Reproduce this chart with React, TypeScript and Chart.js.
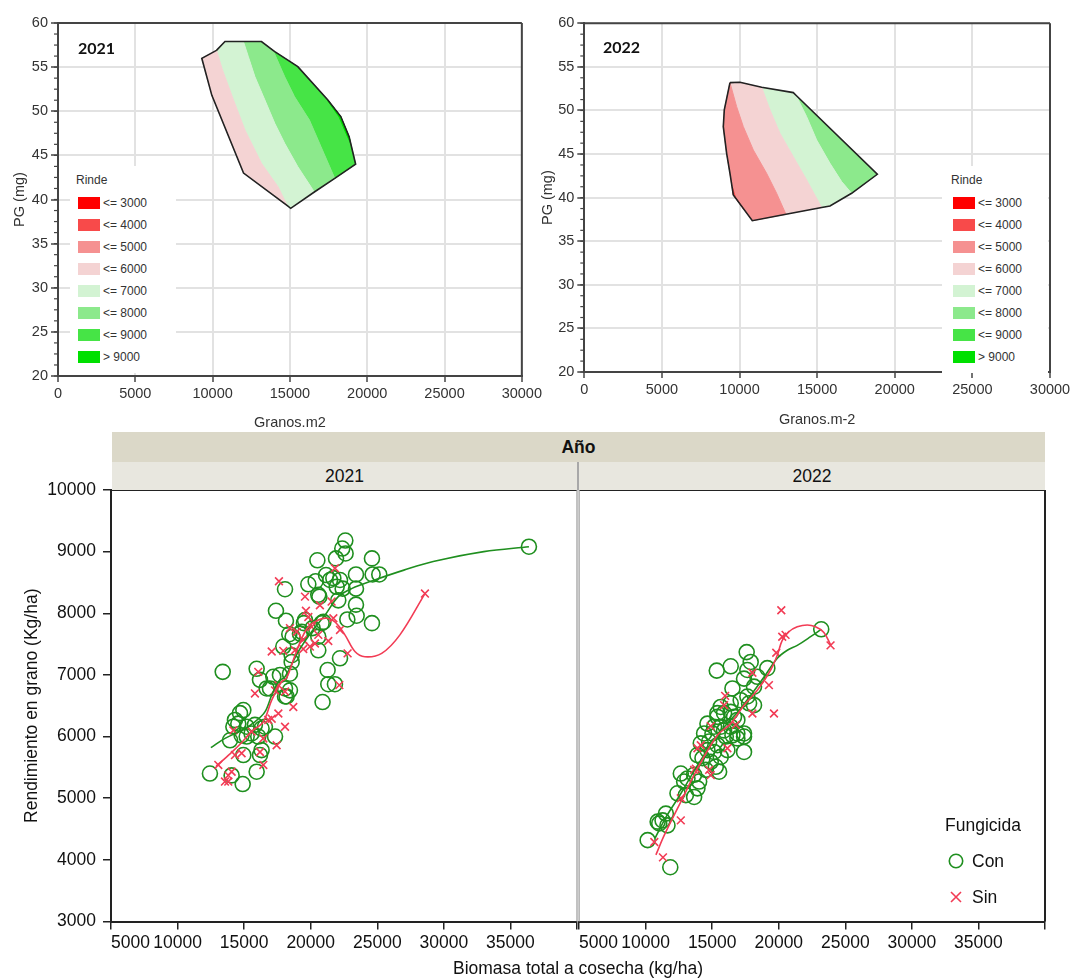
import React, { useEffect, useRef } from 'react';
import { Chart, registerables } from 'chart.js';

Chart.register(...registerables);

type Pt = [number, number];

const SANS = '"Liberation Sans", Arial, Helvetica, sans-serif';

// ---------- Rinde classes (kg/ha) used by both yield maps ----------
const rindeClases = ['<= 3000', '<= 4000', '<= 5000', '<= 6000', '<= 7000', '<= 8000', '<= 9000', '> 9000'];
const rindeColores = ['#ff0000', '#f84a4a', '#f59191', '#f4d3d3', '#d3f3d3', '#8ce98c', '#46e446', '#00e000'];

// ---------- 2021 map (Granos.m2 vs PG): outline pieces and class limits ----------
const contorno2021Izq: Pt[] = [[14830, 39.3], [12000, 43.0], [9950, 51.8], [9300, 56.0], [10250, 56.9]];
const contorno2021Sup: Pt[] = [[10250, 56.9], [10800, 57.9], [11990, 57.9]];
const contorno2021SupDer: Pt[] = [[11990, 57.9], [13160, 57.9], [13910, 56.9]];
const contorno2021Der: Pt[] = [[13910, 56.9], [14020, 56.75], [15510, 55.05], [17440, 51.3], [18290, 49.4], [18830, 47.1], [19250, 44.0], [17900, 42.4]];
const contorno2021Inf1: Pt[] = [[17900, 42.4], [16580, 40.85]];
const contorno2021Inf2: Pt[] = [[16580, 40.85], [15050, 39.0], [14830, 39.3]];
const limite2021_6000: Pt[] = [[10250, 56.9], [10640, 54.67], [11350, 51.28], [12090, 47.88], [13160, 44.1], [14230, 41.45], [14830, 39.3]];
const limite2021_7000: Pt[] = [[11990, 57.9], [12310, 56.19], [12735, 53.92], [13380, 51.28], [14020, 48.63], [14660, 46.37], [15510, 43.72], [16580, 40.85]];
const limite2021_8000: Pt[] = [[13910, 56.9], [14660, 53.92], [15300, 51.65], [16260, 49.01], [17010, 45.99], [17900, 42.4]];
const mancha2021_mas9000: Pt[] = [[17440, 51.3], [18290, 49.4], [18830, 47.1], [18920, 46.4], [18700, 47.2], [18180, 49.35], [17480, 51.1], [17440, 51.3]];

// ---------- 2022 map (Granos.m-2 vs PG) ----------
const contorno2022Izq: Pt[] = [[12991, 38.09], [10823, 37.36], [9599, 40.31], [9384, 42.79], [9169, 45.09], [8954, 48.15], [9019, 50.06], [9384, 53.19]];
const contorno2022Sup: Pt[] = [[9384, 53.19], [10028, 53.23], [11424, 52.66]];
const contorno2022Sup2: Pt[] = [[11424, 52.66], [13464, 52.05], [13636, 51.75]];
const contorno2022Der: Pt[] = [[13636, 51.75], [18875, 42.68], [17221, 40.5]];
const contorno2022Inf1: Pt[] = [[17221, 40.5], [15826, 39.05], [15289, 38.87]];
const contorno2022Inf2: Pt[] = [[15289, 38.87], [12991, 38.09]];
const limite2022_5000: Pt[] = [[9384, 53.19], [9813, 50.44], [10243, 48.15], [10887, 45.47], [11746, 42.79], [12390, 40.5], [12991, 38.09]];
const limite2022_6000: Pt[] = [[11424, 52.66], [11961, 50.06], [12605, 47.38], [13464, 44.7], [14323, 42.03], [15289, 38.87]];
const limite2022_7000: Pt[] = [[13636, 51.75], [14323, 49.29], [14967, 46.62], [15826, 43.94], [16578, 41.84], [17221, 40.5]];
const mancha2022_4000: Pt[] = [[9540, 41.2], [9599, 40.31], [10286, 38.65], [9750, 40.0], [9540, 41.2]];

// ---------- Rendimiento vs biomasa, by Fungicida (Con / Sin) ----------
const con2021: Pt[] = [
  [22600, 9180], [22370, 9050], [22620, 8970], [21900, 8890], [20500, 8860], [24600, 8890], [36390, 9080],
  [23400, 8630], [24650, 8630], [25150, 8630], [21150, 8620], [21700, 8570], [22200, 8540], [21450, 8540],
  [19820, 8470], [20370, 8520], [21950, 8430], [22400, 8400], [23400, 8400], [18070, 8390],
  [20650, 8270], [20570, 8300], [22070, 8210], [23400, 8140], [23450, 7960], [22750, 7900], [24600, 7840],
  [17390, 8040], [18140, 7880], [19490, 7840], [20820, 7840], [20140, 7760], [18390, 7660], [18640, 7620],
  [19190, 7670], [20570, 7620], [20570, 7400], [17940, 7460], [18570, 7320], [18570, 7210], [22200, 7270],
  [13390, 7050], [15940, 7100], [21270, 7080], [21320, 6850], [21820, 6850], [20890, 6560],
  [17190, 6970], [17690, 7000], [18440, 7020], [16190, 6920], [16690, 6780], [18070, 6780], [18440, 6750],
  [18070, 6650], [14940, 6430], [14690, 6380], [14190, 6160], [13940, 5940], [14560, 6210], [15190, 6160],
  [15810, 6190], [16560, 6160], [17320, 6000], [15190, 6000], [15560, 6050], [16310, 5780], [14940, 5700],
  [15940, 5430], [12430, 5400], [14060, 5370], [14890, 5230], [14310, 6270], [16310, 6130], [16060, 6000],
  [14810, 6020], [16190, 5700], [16940, 6780], [18190, 6650], [19570, 7890], [20950, 7860], [19320, 7700],
];
const sin2021: Pt[] = [
  [21820, 8730], [17615, 8520], [19570, 8270], [20690, 8130], [21570, 8190], [19640, 8040], [19820, 7940],
  [21700, 7920], [22200, 7730], [18440, 7760], [18940, 7700], [20070, 7780], [20570, 7650], [21320, 7550],
  [19440, 7570], [20320, 7510], [17070, 7380], [17940, 7390], [18820, 7400], [19440, 7420], [19940, 7460],
  [22770, 7350], [16060, 7050], [28580, 8320], [22150, 6835], [15810, 6700], [17320, 6750], [17570, 6835],
  [18070, 6730], [18690, 6480], [17570, 6375], [17070, 6290], [18070, 6160], [14190, 6100], [15560, 6080],
  [16440, 5970], [17440, 5860], [14310, 5700], [14810, 5730], [16190, 5750], [16440, 5540], [13060, 5540],
  [13810, 5370], [13810, 5270], [13560, 5270], [14060, 5430], [16810, 6270],
];
const con2022: Pt[] = [
  [23190, 7740], [17590, 7370], [15340, 7070], [16390, 7140], [17890, 7210], [17640, 7080], [19140, 7110],
  [18390, 6970], [17390, 6940], [18140, 6810], [16520, 6780], [17140, 6590], [17640, 6650], [17770, 6540],
  [18140, 6510], [16390, 6540], [15640, 6480], [15390, 6380], [15890, 6380], [16390, 6400], [16640, 6320],
  [16890, 6270], [14640, 6210], [15390, 6320], [15140, 6160], [15640, 6160], [16390, 6160], [16890, 6050],
  [17390, 6050], [16520, 6020], [14390, 6050], [15020, 6050], [15890, 6100], [16020, 6000],
  [14140, 5890], [14770, 5920], [15390, 5860], [14640, 5780], [15140, 5750], [13890, 5700], [14270, 5650],
  [15640, 5670], [16140, 5780], [16890, 5970], [17390, 6000], [17390, 5750], [14890, 5590], [15270, 5510],
  [15520, 5430], [14520, 5460], [12640, 5400], [13140, 5320], [12890, 5270], [13640, 5380], [14020, 5270],
  [12390, 5080], [13020, 5050], [13640, 5020], [13890, 5160], [11520, 4750], [11270, 4640], [11020, 4590],
  [11640, 4560], [10900, 4620], [10150, 4320], [11850, 3880],
];
const sin2022: Pt[] = [
  [20190, 8050], [20260, 7620], [20510, 7650], [19810, 7360], [23890, 7480], [18020, 7035], [19260, 6835],
  [15970, 6660], [19640, 6375], [18020, 6375], [15890, 6510], [14890, 6170], [16770, 6190],
  [13890, 5810], [14140, 5860], [16140, 5810], [13770, 5480], [13640, 5460], [14770, 5460], [14890, 5375],
  [12640, 5000], [12640, 4640], [10650, 4290], [11300, 4040],
];

// Smoothed trends per treatment
const curvaCon2021: Pt[] = [[12500, 5820], [13560, 5970], [14810, 6100], [15810, 6240], [16560, 6400], [17070, 6670], [17570, 6890], [18070, 6970], [19070, 7380], [20070, 7700], [21070, 7970], [22070, 8270], [23070, 8400], [24800, 8540], [27000, 8700], [29200, 8840], [33000, 9000], [36390, 9080]];
const curvaSin2021: Pt[] = [[12900, 5520], [13940, 5720], [14800, 5900], [15560, 6080], [16440, 6240], [17070, 6590], [17810, 6890], [18190, 6950], [18820, 7320], [19320, 7590], [19820, 7780], [20570, 7890], [21200, 7920], [21820, 7860], [22570, 7650], [23320, 7380], [24070, 7295], [25330, 7350], [26700, 7650], [28580, 8320]];
const curvaCon2022: Pt[] = [[10700, 4350], [11600, 4720], [12600, 5060], [13800, 5500], [15000, 5900], [16000, 6180], [17000, 6420], [18000, 6700], [19000, 7000], [19890, 7270], [20640, 7400], [21390, 7480], [22390, 7620], [23190, 7740]];
const curvaSin2022: Pt[] = [[10770, 4080], [11400, 4400], [12640, 4940], [13890, 5480], [15390, 6020], [16390, 6210], [17390, 6510], [18390, 6750], [19390, 7080], [19890, 7320], [20260, 7560], [20760, 7700], [21390, 7780], [22140, 7810], [22760, 7780], [23390, 7690], [23890, 7490]];

const VERDE = '#1f8f1f';
const ROJO = '#f23c55';

const rev = (p: Pt[]) => [...p].reverse();
const aXY = (p: Pt[]) => p.map(([x, y]) => ({ x, y }));

// Draws the plot frame sides not covered by axes, plus optional minor ticks on y
const marcoPlugin = {
  id: 'marco',
  afterDatasetsDraw(chart: any, _args: any, opts: any) {
    const { ctx, chartArea: a } = chart;
    ctx.save();
    const lados = opts.lados || {};
    const linea = (lado: string, x1: number, y1: number, x2: number, y2: number) => {
      const s = lados[lado];
      if (!s) return;
      ctx.strokeStyle = s.color;
      ctx.lineWidth = s.width;
      ctx.beginPath();
      ctx.moveTo(x1, y1);
      ctx.lineTo(x2, y2);
      ctx.stroke();
    };
    linea('top', a.left, a.top, a.right, a.top);
    linea('right', a.right, a.top, a.right, a.bottom);
    linea('left', a.left, a.top, a.left, a.bottom);
    const m = opts.menorY;
    if (m) {
      const sc = chart.scales.y;
      ctx.strokeStyle = m.color;
      ctx.lineWidth = 1.2;
      for (let v = sc.min; v <= sc.max + 1e-9; v += m.paso) {
        const py = sc.getPixelForValue(v);
        ctx.beginPath();
        ctx.moveTo(a.left - m.largo, py);
        ctx.lineTo(a.left, py);
        ctx.stroke();
      }
    }
    ctx.restore();
  },
};

const banda = (p: Pt[], color: string, order = 2) => ({
  data: aXY(p),
  showLine: true,
  fill: 'shape',
  backgroundColor: color,
  borderColor: color,
  borderWidth: 1,
  pointRadius: 0,
  tension: 0,
  order,
});

const contorno = (p: Pt[]) => ({
  data: aXY(p),
  showLine: true,
  fill: false,
  borderColor: '#222',
  borderWidth: 1.6,
  pointRadius: 0,
  tension: 0,
  order: 0,
});

function configMapa(datasets: any[], xTitulo: string, d: any) {
  const fuente = { family: SANS, size: 14.5 };
  return {
    type: 'scatter',
    data: { datasets },
    options: {
      responsive: false,
      animation: false,
      events: [],
      layout: { padding: { left: 0, top: d.top, right: d.right, bottom: 0 } },
      plugins: {
        legend: { display: false },
        tooltip: { enabled: false },
        marco: {
          lados: { top: { color: '#444', width: 2 }, right: { color: '#444', width: 2 } },
          menorY: { paso: 1.25, largo: 4, color: '#444' },
        },
      },
      scales: {
        x: {
          type: 'linear', min: 0, max: 30000,
          ticks: { stepSize: 5000, autoSkip: false, maxRotation: 0, padding: 3, color: '#333', font: fuente, callback: (v: any) => String(v) },
          grid: { color: '#e2e2e2', lineWidth: 2, tickColor: '#444', tickWidth: 1.5, tickLength: 6 },
          border: { color: '#444', width: 2 },
          title: { display: true, text: xTitulo, color: '#333', font: fuente, padding: { top: 0, bottom: d.xPad } },
          afterFit: (s: any) => { s.height = d.xAlto; },
        },
        y: {
          type: 'linear', min: 20, max: 60,
          ticks: { stepSize: 5, autoSkip: false, padding: 3, color: '#333', font: fuente, callback: (v: any) => String(v) },
          grid: { color: '#e2e2e2', lineWidth: 2, tickColor: '#444', tickWidth: 1.5, tickLength: 7 },
          border: { color: '#444', width: 2 },
          title: { display: true, text: 'PG (mg)', color: '#333', font: fuente, padding: { top: d.yPad, bottom: 0 } },
          afterFit: (s: any) => { s.width = d.yAncho; },
        },
      },
    },
    plugins: [marcoPlugin],
  };
}

function configDispersion(con: Pt[], sin: Pt[], curvaCon: Pt[], curvaSin: Pt[], izquierdo: boolean) {
  const fuente = { family: SANS, size: 17.5 };
  return {
    type: 'scatter',
    data: {
      datasets: [
        { data: aXY(curvaSin), showLine: true, borderColor: ROJO, borderWidth: 1.6, pointRadius: 0, tension: 0.35, fill: false, order: 0 },
        { data: aXY(curvaCon), showLine: true, borderColor: VERDE, borderWidth: 1.6, pointRadius: 0, tension: 0.35, fill: false, order: 1 },
        { data: aXY(sin), pointStyle: 'crossRot', pointRadius: 5.5, pointBorderWidth: 1.6, borderColor: ROJO, backgroundColor: ROJO, order: 2 },
        { data: aXY(con), pointStyle: 'circle', pointRadius: 7.5, pointBorderWidth: 1.6, borderColor: VERDE, backgroundColor: 'rgba(0,0,0,0)', order: 3 },
      ],
    },
    options: {
      responsive: false,
      animation: false,
      events: [],
      layout: { padding: izquierdo ? { left: 0, top: 20, right: 13, bottom: 0 } : { left: 8, top: 20, right: 41, bottom: 0 } },
      plugins: {
        legend: { display: false },
        tooltip: { enabled: false },
        marco: {
          lados: izquierdo
            ? { top: { color: '#222', width: 2 }, right: { color: '#9a9a9a', width: 1.2 } }
            : { top: { color: '#222', width: 2 }, right: { color: '#222', width: 2 }, left: { color: '#9a9a9a', width: 1.2 } },
        },
      },
      scales: {
        x: {
          type: 'linear', min: 5000, max: 40000,
          ticks: {
            stepSize: 5000, autoSkip: false, maxRotation: 0, padding: 3, align: 'inner', color: '#111', font: fuente,
            callback: (v: any) => (v === 40000 ? '' : String(v)),
          },
          grid: { display: true, drawOnChartArea: false, color: '#222', lineWidth: 1.5, tickLength: 8 },
          border: { color: '#222', width: 2 },
          afterFit: (s: any) => { s.height = 57.5; },
        },
        y: {
          type: 'linear', min: 3000, max: 10000, display: izquierdo,
          ticks: { stepSize: 1000, autoSkip: false, padding: 7, color: '#111', font: fuente, callback: (v: any) => String(v) },
          grid: { display: true, drawOnChartArea: false, color: '#222', lineWidth: 1.5, tickLength: 8 },
          border: { color: '#222', width: 2 },
          title: { display: true, text: 'Rendimiento en grano (Kg/ha)', color: '#111', font: fuente, padding: { top: 22, bottom: 0 } },
          afterFit: (s: any) => { s.width = izquierdo ? 111 : 0; },
        },
      },
    },
    plugins: [marcoPlugin],
  };
}

function Lienzo({ hacer, left, top, width, height }: { hacer: () => any; left: number; top: number; width: number; height: number }) {
  const ref = useRef<HTMLCanvasElement>(null);
  useEffect(() => {
    const chart = new Chart(ref.current as HTMLCanvasElement, hacer());
    return () => chart.destroy();
  }, []);
  return <canvas ref={ref} width={width} height={height} style={{ position: 'absolute', left, top, width, height }} />;
}

function LeyendaRinde({ left, dx }: { left: number; dx: number }) {
  return (
    <div style={{ position: 'absolute', left, top: 166, width: 106, height: 207, background: '#fff', fontFamily: SANS, color: '#333' }}>
      <div style={{ position: 'absolute', left: 6 + dx, top: 6, fontSize: 12, lineHeight: '16px' }}>Rinde</div>
      {rindeClases.map((c, i) => (
        <React.Fragment key={c}>
          <div style={{ position: 'absolute', left: 8 + dx, top: 30.5 + i * 22.1, width: 22, height: 12, background: rindeColores[i] }} />
          <div style={{ position: 'absolute', left: 33 + dx, top: 28.5 + i * 22.1, fontSize: 12, lineHeight: '16px', whiteSpace: 'nowrap' }}>{c}</div>
        </React.Fragment>
      ))}
    </div>
  );
}

export default function App() {
  const mapa2021 = () =>
    configMapa(
      [
        contorno([...contorno2021Sup, ...contorno2021SupDer, ...contorno2021Der, ...contorno2021Inf1, ...contorno2021Inf2, ...contorno2021Izq]),
        banda(mancha2021_mas9000, rindeColores[7], 1),
        banda([...limite2021_6000, ...contorno2021Izq], rindeColores[3]),
        banda([...contorno2021Sup, ...limite2021_7000, ...contorno2021Inf2, ...rev(limite2021_6000)], rindeColores[4]),
        banda([...contorno2021SupDer, ...limite2021_8000, ...contorno2021Inf1, ...rev(limite2021_7000)], rindeColores[5]),
        banda([...contorno2021Der, ...rev(limite2021_8000)], rindeColores[6]),
      ],
      'Granos.m2',
      { top: 23, right: 19, xAlto: 56, xPad: 0, yAncho: 58, yPad: 11.6 },
    );
  const mapa2022 = () =>
    configMapa(
      [
        contorno([...contorno2022Sup, ...contorno2022Sup2, ...contorno2022Der, ...contorno2022Inf1, ...contorno2022Inf2, ...contorno2022Izq]),
        banda(mancha2022_4000, rindeColores[1], 1),
        banda([...limite2022_5000, ...contorno2022Izq], rindeColores[2]),
        banda([...contorno2022Sup, ...limite2022_6000, ...contorno2022Inf2, ...rev(limite2022_5000)], rindeColores[3]),
        banda([...contorno2022Sup2, ...limite2022_7000, ...contorno2022Inf1, ...rev(limite2022_6000)], rindeColores[4]),
        banda([...contorno2022Der, ...rev(limite2022_7000)], rindeColores[5]),
      ],
      'Granos.m-2',
      { top: 23.3, right: 36, xAlto: 60, xPad: 3.6, yAncho: 48.3, yPad: 3.6 },
    );

  const texto = { position: 'absolute' as const, fontFamily: SANS, color: '#111', whiteSpace: 'nowrap' as const };

  return (
    <div style={{ position: 'fixed', left: 0, top: 0, width: 1086, height: 979, background: '#fff', overflow: 'hidden' }}>
      <Lienzo hacer={mapa2021} left={0} top={0} width={545} height={432} />
      <Lienzo hacer={mapa2022} left={536} top={0} width={550} height={432} />
      <Lienzo hacer={() => configDispersion(con2021, sin2021, curvaCon2021, curvaSin2021, true)} left={0} top={470} width={590} height={509} />
      <Lienzo hacer={() => configDispersion(con2022, sin2022, curvaCon2022, curvaSin2022, false)} left={570} top={470} width={516} height={509} />

      <div style={{ ...texto, left: 78, top: 38, fontFamily: 'Lato, sans-serif', fontWeight: 700, fontSize: 16, lineHeight: '20px' }}>2021</div>
      <div style={{ ...texto, left: 603, top: 37, fontFamily: 'Lato, sans-serif', fontWeight: 700, fontSize: 16, lineHeight: '20px' }}>2022</div>
      <LeyendaRinde left={70} dx={0} />
      <LeyendaRinde left={942} dx={3} />

      <div style={{ ...texto, left: 112, top: 432, width: 933, height: 30, background: '#dbd8c8', textAlign: 'center', fontWeight: 700, fontSize: 17.5, lineHeight: '30px' }}>Año</div>
      <div style={{ ...texto, left: 112, top: 462, width: 465, height: 28, background: '#e8e7df', textAlign: 'center', fontSize: 17.5, lineHeight: '28px' }}>2021</div>
      <div style={{ position: 'absolute', left: 577, top: 462, width: 2, height: 28, background: '#a8a8a8' }} />
      <div style={{ ...texto, left: 579, top: 462, width: 466, height: 28, background: '#e8e7df', textAlign: 'center', fontSize: 17.5, lineHeight: '28px' }}>2022</div>

      <div style={{ ...texto, left: 378, top: 958, width: 400, textAlign: 'center', fontSize: 17.5, lineHeight: '20px' }}>Biomasa total a cosecha (kg/ha)</div>

      <div style={{ ...texto, left: 945, top: 815, fontSize: 17.5, lineHeight: '20px' }}>Fungicida</div>
      <svg style={{ position: 'absolute', left: 946, top: 850 }} width={22} height={60}>
        <circle cx={10} cy={11} r={6.7} fill="none" stroke={VERDE} strokeWidth={1.6} />
        <path d="M5,42 L15,52 M15,42 L5,52" stroke={ROJO} strokeWidth={1.6} />
      </svg>
      <div style={{ ...texto, left: 972, top: 851, fontSize: 17.5, lineHeight: '20px' }}>Con</div>
      <div style={{ ...texto, left: 972, top: 887, fontSize: 17.5, lineHeight: '20px' }}>Sin</div>
    </div>
  );
}
